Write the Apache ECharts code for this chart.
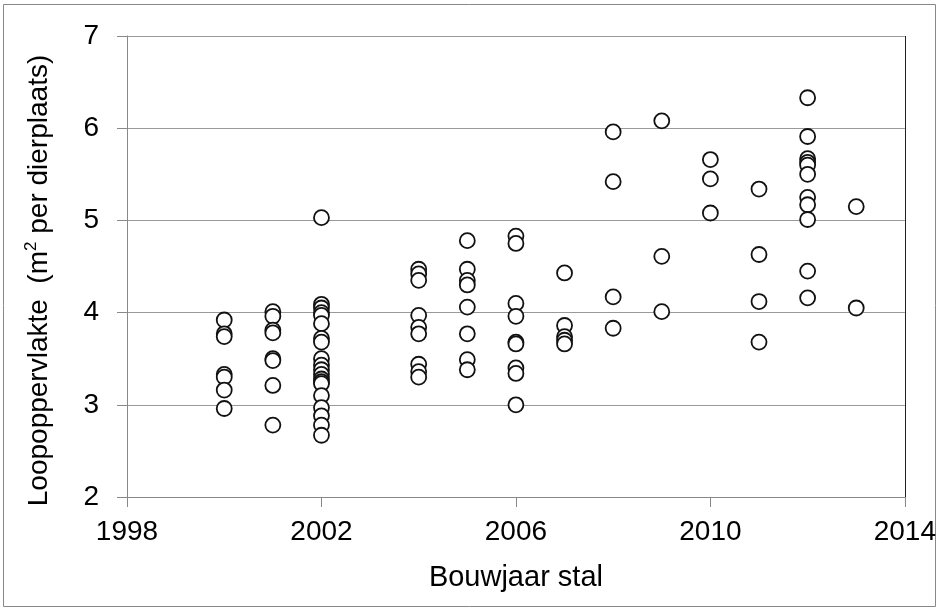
<!DOCTYPE html>
<html><head><meta charset="utf-8">
<script src="https://cdn.jsdelivr.net/npm/echarts@6/dist/echarts.min.js"></script>
<style>html,body{margin:0;padding:0;background:#fff}#c{width:939px;height:610px}</style>
</head><body><div id="c"></div>
<script>
const years = [2000,2001,2002,2004,2005,2006,2007,2008,2009,2010,2011,2012,2013];
const v2000 = [3.92,3.77,3.74,3.33,3.30,3.16,2.96];
const v2001 = [4.01,3.96,3.81,3.78,3.50,3.48,3.21,2.78];
const v2002 = [5.03,4.09,4.05,4.00,3.97,3.88,3.72,3.68,3.50,3.43,3.38,3.33,3.28,3.25,3.23,3.10,2.97,2.88,2.78,2.67];
const v2004 = [4.47,4.42,4.35,3.97,3.84,3.77,3.44,3.36,3.30];
const v2005 = [4.78,4.47,4.35,4.30,4.06,3.77,3.49,3.38];
const v2006 = [4.83,4.75,4.10,3.96,3.68,3.66,3.40,3.34,3.00];
const v2007 = [4.43,3.86,3.74,3.70,3.66];
const v2008 = [5.96,5.42,4.17,3.83];
const v2009 = [6.08,4.61,4.01];
const v2010 = [5.66,5.45,5.08];
const v2011 = [5.34,4.63,4.12,3.68];
const v2012 = [6.33,5.91,5.67,5.63,5.60,5.50,5.25,5.17,5.01,4.45,4.16];
const v2013 = [5.15,4.05];
const groups = [v2000,v2001,v2002,v2004,v2005,v2006,v2007,v2008,v2009,v2010,v2011,v2012,v2013];
const xTicks = [1998,2002,2006,2010,2014];
const yTicks = [2,3,4,5,6,7];

const data = [];
groups.forEach((g,i)=>g.forEach(v=>data.push([years[i],v])));

const chart = echarts.init(document.getElementById('c'));
const font = 'Liberation Sans, Arial, sans-serif';
chart.setOption({
  animation:false,
  backgroundColor:'#fff',
  graphic:[{type:'rect',shape:{x:3.5,y:4.5,width:932,height:602},style:{fill:'none',stroke:'#888',lineWidth:1}},
           {type:'line',shape:{x1:905.5,y1:36,x2:905.5,y2:497},style:{stroke:'#222',lineWidth:1}}],
  grid:{left:127,right:34,top:36,bottom:113,containLabel:false},
  xAxis:{type:'value',min:xTicks[0],max:xTicks[xTicks.length-1],interval:4,
    name:'Bouwjaar stal',nameLocation:'middle',nameGap:66,
    nameTextStyle:{fontFamily:font,fontSize:29,color:'#000'},
    axisLine:{show:true,lineStyle:{color:'#888'}},
    axisTick:{show:true,length:10,lineStyle:{color:'#888'}},
    axisLabel:{fontFamily:font,fontSize:28,color:'#000',margin:21,formatter:v=>String(v)},
    splitLine:{show:false}},
  yAxis:{type:'value',min:yTicks[0],max:yTicks[yTicks.length-1],interval:1,
    name:'Loopoppervlakte  (m{sup|2} per dierplaats)',nameLocation:'middle',nameGap:72,
    nameTextStyle:{fontFamily:font,fontSize:28,color:'#000',padding:[0,28,0,0],
      rich:{sup:{fontFamily:font,fontSize:17,color:'#000',verticalAlign:'top',lineHeight:32}}},
    axisLine:{show:true,lineStyle:{color:'#888'}},
    axisTick:{show:true,length:10,lineStyle:{color:'#888'}},
    axisLabel:{fontFamily:font,fontSize:28,color:'#000',margin:28},
    splitLine:{show:true,lineStyle:{color:'#999',width:1}}},
  series:[{type:'scatter',data:data,symbol:'circle',symbolSize:15,
    itemStyle:{color:'#fff',borderColor:'#111',borderWidth:1.8,opacity:1}}]
});
</script></body></html>
